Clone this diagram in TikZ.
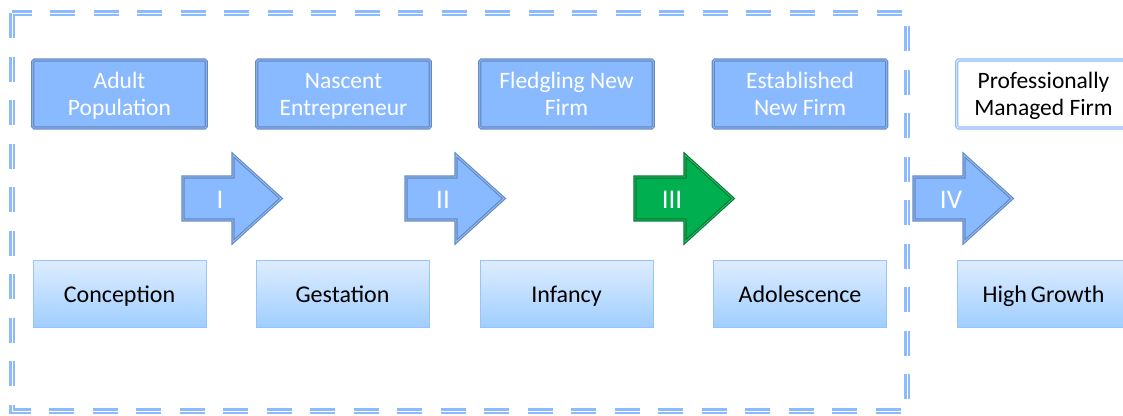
\documentclass[tikz,border=0pt]{standalone}
\usepackage{fontspec}
\setmainfont{Carlito}
\definecolor{topfill}{RGB}{137,185,255}
\definecolor{topdraw}{RGB}{98,138,196}
\definecolor{topstripe}{RGB}{160,196,245}
\definecolor{botdraw}{RGB}{150,196,255}
\definecolor{bottop}{RGB}{222,237,255}
\definecolor{botbot}{RGB}{160,206,255}
\definecolor{framec}{RGB}{140,186,255}
\definecolor{grfill}{RGB}{0,176,80}
\definecolor{grdraw}{RGB}{0,122,52}
\definecolor{grstripe}{RGB}{50,200,110}
\newcommand{\stagearrow}[4]{%
  \draw[#2] (#1,177) -- (#1+50,177) -- (#1+50,155) -- (#1+98,198.5) -- (#1+50,242) -- (#1+50,220) -- (#1,220) -- cycle;
  \node[arrowtxt] (#4) at (#1+37,198.5) {#3};}
\begin{document}
\begin{tikzpicture}[x=1pt,y=-1pt,
  txt/.style={align=center, inner sep=0pt},
  topbox/.style={txt, font=\fontsize{23.5}{27}\selectfont, text height=42pt, text depth=0pt,
    text=white, minimum width=173.5pt, minimum height=68pt,
    fill=topfill, draw=topdraw, line width=1.2pt, double=topstripe, double distance=0.7pt, rounded corners=1.5pt},
  profbox/.style={txt, font=\fontsize{23.5}{27}\selectfont, text height=42pt, text depth=0pt,
    text=black, minimum width=173.5pt, minimum height=68pt,
    fill=white, draw=framec, line width=1.2pt, double=white, double distance=0.7pt, rounded corners=1.5pt},
  botbox/.style={txt, font=\fontsize{24}{28}\selectfont, text height=17pt, text depth=0pt,
    text=black, minimum width=173pt, minimum height=67pt,
    top color=bottop, bottom color=botbot, draw=botdraw, line width=1pt},
  bluearrow/.style={fill=topfill, draw=topdraw, line width=1.2pt, double=topstripe, double distance=0.7pt, line join=miter},
  greenarrow/.style={fill=grfill, draw=grdraw, line width=1.2pt, double=grstripe, double distance=0.7pt, line join=miter},
  arrowtxt/.style={txt, font=\fontsize{27}{30}\selectfont, text height=19pt, text depth=0pt, text=white},
  framestyle/.style={draw=framec, line width=2.1pt, double=white, double distance=0.9pt, dash pattern=on 25pt off 18.5pt}
]
\useasboundingbox (0,0) rectangle (1123,415);
\clip (0,0) rectangle (1123,415);

% frame
\draw[framestyle] (12,13) rectangle (907,411);

% top boxes
\node[topbox] (adult) at (119.5,94) {Adult\\Population};
\node[topbox] (nascent) at (343.5,94) {Nascent\\Entrepreneur};
\node[topbox] (fledg) at (566.5,94) {Fledgling New\\Firm};
\node[topbox] (estab) at (800,94) {Established\\New Firm};
\node[profbox] (prof) at (1043.5,94) {Professionally\\Managed Firm};

% bottom boxes
\node[botbox] (concep) at (119.5,293.5) {Conception};
\node[botbox] (gest) at (342.5,293.5) {Gestation};
\node[botbox] (inf) at (566.5,293.5) {Infancy};
\node[botbox] (adol) at (800,293.5) {Adolescence};
\node[botbox] (high) at (1043.5,293.5) {High\hspace{-1.5pt} Growth};

% arrows
\stagearrow{183}{bluearrow}{I}{s1}
\stagearrow{406}{bluearrow}{II}{s2}
\stagearrow{635}{greenarrow}{III}{s3}
\stagearrow{914}{bluearrow}{IV}{s4}
\end{tikzpicture}
\end{document}
